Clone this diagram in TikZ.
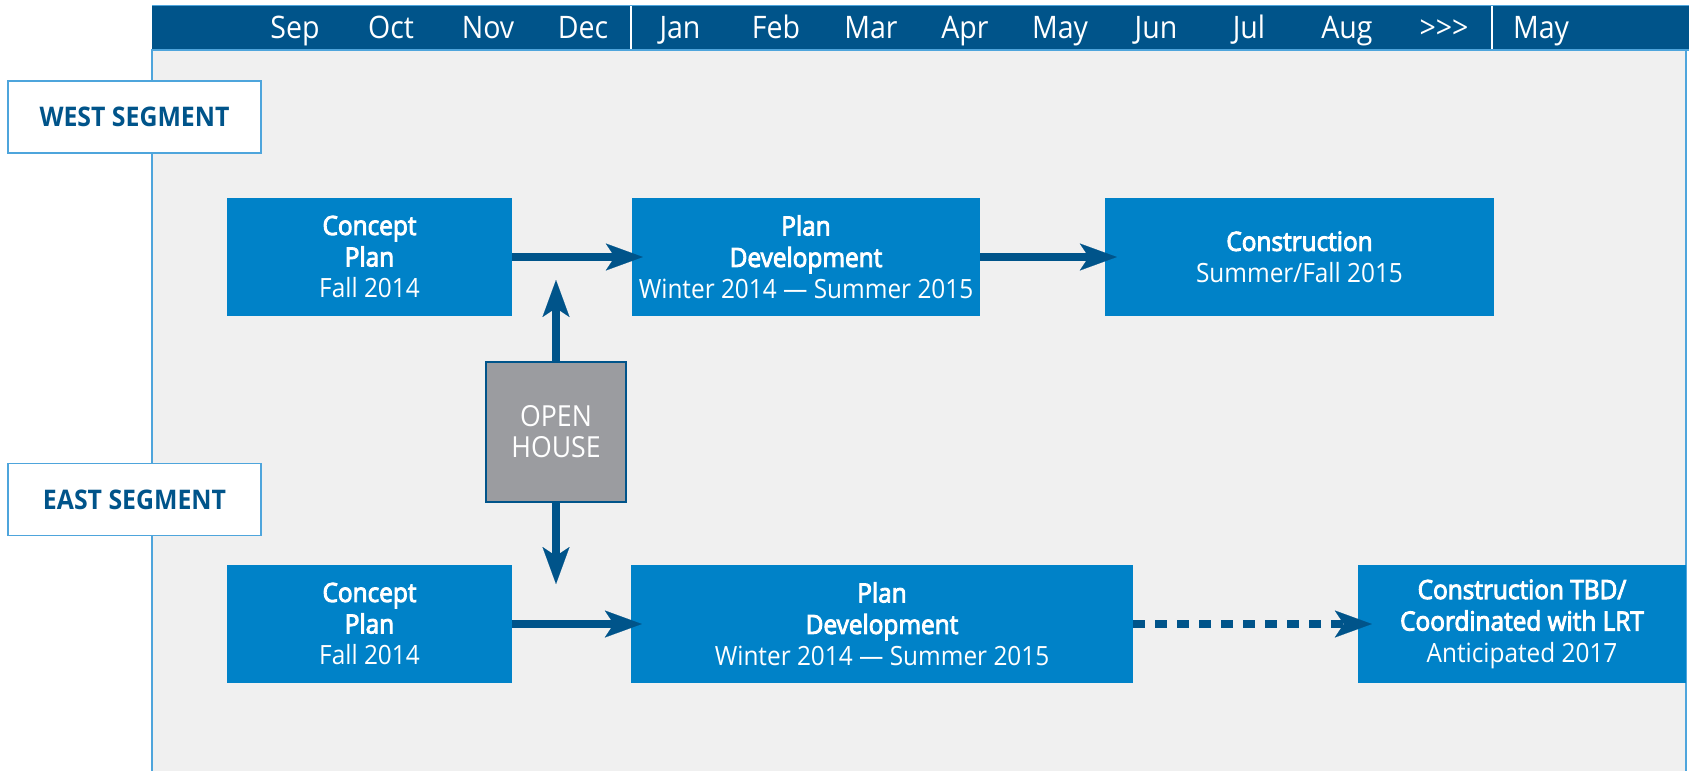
\documentclass[tikz,border=0pt]{standalone}
\usepackage{fontspec}
\setmainfont{Open Sans}[FakeStretch=0.92]
\newfontfamily\semib{Open Sans}[FakeStretch=0.92, FakeBold=3.5]
\usetikzlibrary{arrows.meta}
\definecolor{hdr}{HTML}{00548A}
\definecolor{boxblue}{HTML}{0082C8}
\definecolor{panel}{HTML}{F0F0F0}
\definecolor{edge}{HTML}{4EA5DC}
\definecolor{ohgray}{HTML}{9B9CA0}
\newcommand{\ttl}[1]{{\semib #1}}
\begin{document}
\begin{tikzpicture}[x=1pt,y=-1pt,
  month/.style={text=white, font=\fontsize{31}{31}\selectfont, anchor=base, inner sep=0},
  seglabel/.style={draw=edge, line width=1.5pt, fill=white, minimum width=253pt, minimum height=72pt,
    text=hdr, font=\bfseries\fontsize{27}{27}\selectfont, inner sep=0},
  stage/.style={fill=boxblue, text=white, inner sep=0, align=center, font=\fontsize{26.5}{31.5}\selectfont},
  openbox/.style={fill=ohgray, draw=hdr, line width=2.5pt, text=white, inner sep=0, align=center,
    minimum width=140pt, minimum height=140pt, font=\fontsize{29}{31}\selectfont},
  flow/.style={draw=hdr, line width=8pt, -{Stealth[length=37pt,width=27pt,inset=9pt,line width=0.1pt]}},
]
\useasboundingbox (0,0) rectangle (1689,771);
% panel
\fill[panel] (152,50) rectangle (1686,771);
\draw[edge, line width=1.5pt] (152,49) -- (152,771);
\draw[edge, line width=1.5pt] (1686,49) -- (1686,771);
% header
\fill[hdr] (152,5) rectangle (1689,49);
\draw[edge, line width=0.8pt] (152,5) -- (1689,5);
\draw[edge, line width=2pt] (152,50) -- (1689,50);
\draw[white, line width=2pt] (631,6) -- (631,49);
\draw[white, line width=2pt] (1492,6) -- (1492,49);
\node[month] (m1) at (295,38) {Sep};
\node[month] (m2) at (391,38) {Oct};
\node[month] (m3) at (488,38) {Nov};
\node[month] (m4) at (583,38) {Dec};
\node[month] (m5) at (680,38) {Jan};
\node[month] (m6) at (776,38) {Feb};
\node[month] (m7) at (871,38) {Mar};
\node[month] (m8) at (965,38) {Apr};
\node[month] (m9) at (1060,38) {May};
\node[month] (m10) at (1156,38) {Jun};
\node[month] (m11) at (1249,38) {Jul};
\node[month] (m12) at (1347,38) {Aug};
\node[month] (m13) at (1444,38) {>{}>{}>};
\node[month] (m14) at (1541,38) {May};
% segment labels
\node[seglabel] (west) at (134.5,117) {WEST SEGMENT};
\node[seglabel] (east) at (134.5,499.5) {EAST SEGMENT};
% west stages
\node[stage, minimum width=285pt, minimum height=118pt] (wcp) at (369.5,257) {\ttl{Concept}\\\ttl{Plan}\\Fall 2014};
\node[stage, minimum width=348pt, minimum height=118pt] (wpd) at (806,257) {\ttl{Plan}\\\ttl{Development}\\Winter 2014 — Summer 2015};
\node[stage, minimum width=389pt, minimum height=118pt] (wcon) at (1299.5,257) {\ttl{Construction}\\Summer/Fall 2015};
% east stages
\node[stage, minimum width=285pt, minimum height=118pt] (ecp) at (369.5,624) {\ttl{Concept}\\\ttl{Plan}\\Fall 2014};
\node[stage, minimum width=502pt, minimum height=118pt] (epd) at (882,624) {\ttl{Plan}\\\ttl{Development}\\Winter 2014 — Summer 2015};
\node[stage, minimum width=328pt, minimum height=118pt] (ect) at (1522,624) {\ttl{Construction TBD/}\\\ttl{Coordinated with LRT}\\Anticipated 2017};
% open house
\node[openbox] (oh) at (556,432) {OPEN\\HOUSE};
\coordinate (upend) at (556,280);
\coordinate (downend) at (556,584);
% connectors
\draw[flow, shorten >=-11pt] (wcp) -- (wpd);
\draw[flow, shorten >=-12pt] (wpd) -- (wcon);
\draw[flow, shorten >=-11pt] (ecp) -- (epd);
\draw[flow, dash pattern=on 12pt off 10pt, shorten >=-14pt] (epd) -- (ect);
\draw[flow] (oh.north) -- (upend);
\draw[flow] (oh.south) -- (downend);
\end{tikzpicture}
\end{document}
